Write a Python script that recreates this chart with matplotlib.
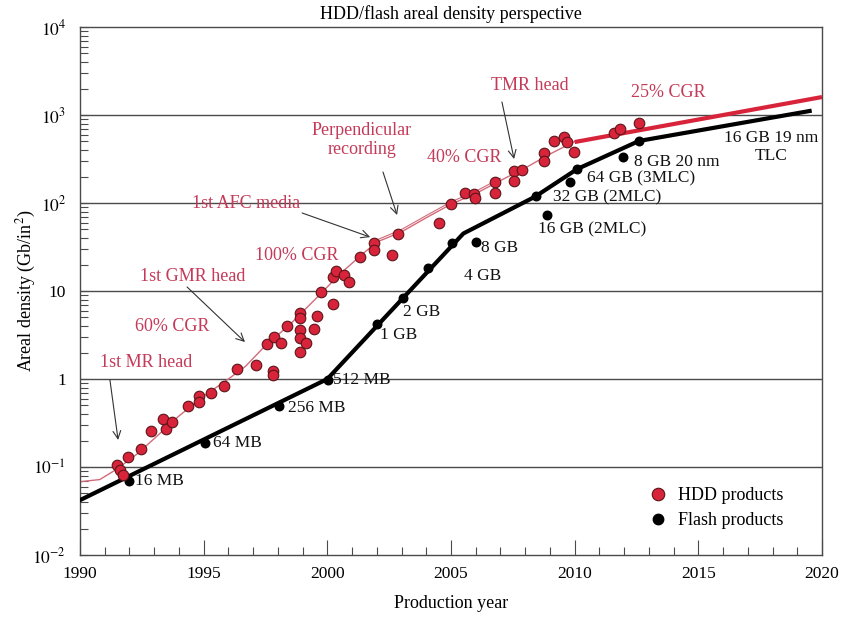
import matplotlib.pyplot as plt
from matplotlib.lines import Line2D
from matplotlib.ticker import FixedLocator, FixedFormatter, MultipleLocator, NullFormatter

plt.rcParams['font.family'] = ['Liberation Serif', 'DejaVu Serif']
plt.rcParams['mathtext.fontset'] = 'stix'

# HDD products: production year vs areal density (Gb/in^2)
hdd_year = [1991.50, 1991.62, 1991.74, 1991.94, 1992.47, 1992.87, 1993.36, 1993.48,
            1993.72, 1994.37, 1994.82, 1994.82, 1995.30, 1995.83, 1996.36, 1997.13,
            1997.57, 1997.85, 1998.14, 1997.81, 1997.81, 1998.38, 1998.91, 1998.91,
            1998.91, 1998.91, 1998.91, 1999.15, 1999.47, 1999.60, 1999.76, 2000.24,
            2000.24, 2000.36, 2000.69, 2000.89, 2001.34, 2001.90, 2001.90, 2002.63,
            2002.87, 2004.53, 2004.98, 2005.55, 2005.91, 2005.99, 2006.76, 2006.76,
            2007.53, 2007.89, 2007.53, 2008.74, 2008.74, 2009.15, 2009.55, 2009.68,
            2009.96, 2011.58, 2011.82, 2012.59]
hdd_val = [0.105, 0.092, 0.081, 0.130, 0.160, 0.257, 0.351, 0.270,
           0.325, 0.493, 0.641, 0.548, 0.694, 0.832, 1.30, 1.44,
           2.50, 3.00, 2.56, 1.23, 1.11, 4.00, 5.62, 4.93,
           3.61, 2.93, 2.03, 2.56, 3.70, 5.20, 9.75, 7.11,
           14.4, 16.9, 15.2, 12.6, 24.3, 35.1, 29.2, 25.6,
           44.5, 59.3, 97.4, 130, 126, 114, 173, 130,
           231, 237, 178, 370, 300, 507, 562, 493,
           380, 624, 693, 811]

# HDD trend curve and its 25% CGR continuation
hdd_trend_year = [1990.0, 1990.8, 1991.5, 1992.3, 1993.0, 1994.0, 1995.0, 1996.0,
                  1996.7, 1997.5, 1998.5, 1999.5, 2000.5, 2001.4, 2002.0, 2003.0,
                  2004.0, 2005.0, 2006.0, 2007.0, 2008.0, 2009.0, 2010.0]
hdd_trend_val = [0.068, 0.072, 0.095, 0.14, 0.21, 0.38, 0.64, 1.0,
                 1.4, 2.4, 4.2, 8.0, 15.5, 26, 36, 47,
                 68, 97, 128, 180, 250, 360, 500]
hdd_trend2_year = [2001.8, 2003.0, 2004.0, 2005.0, 2006.0, 2007.0]
hdd_trend2_val = [36, 50, 72, 103, 136, 191]
hdd_proj_year = [2010.0, 2020.0]
hdd_proj_val = [493, 1600]

# Flash products
flash_year = [1991.98, 1995.06, 1998.06, 2000.04, 2002.02, 2003.04, 2004.05, 2005.06,
              2006.03, 2008.42, 2008.87, 2009.80, 2010.08, 2011.94, 2012.59]
flash_val = [0.069, 0.187, 0.49, 0.975, 4.2, 8.3, 18.2, 35,
             36, 120, 73, 173, 243, 333, 507]
flash_label = ['16 MB', '64 MB', '256 MB', '512 MB', '1 GB', '2 GB', '4 GB', '',
               '8 GB', '32 GB (2MLC)', '16 GB (2MLC)', '64 GB (3MLC)', '', '8 GB 20 nm', '']
flash_trend_year = [1990.0, 2000.0, 2005.5, 2008.4, 2010.1, 2012.6, 2019.5]
flash_trend_val = [0.042, 1.0, 45, 118, 243, 507, 1110]

# label offsets from each flash dot, in pixels
label_dx = [6, 8, 9, 5, 3, 0, 36, 0, 5, 17, -9, 17, 0, 11, 0]
label_dy = [0, 0, -2, 0, -11, -14, -8, 0, -6, -1, -14, 4, 0, -5, 0]

ytick_vals = [1e-2, 1e-1, 1, 10, 1e2, 1e3, 1e4]
ytick_text = ['$10^{-2}$', '$10^{-1}$', '1', '10', '$10^{2}$', '$10^{3}$', '$10^{4}$']

RED_TXT = '#c43a58'
RED = '#d8243a'
DOT_EDGE = '#5c1418'
AX_COL = '#4a4a4a'

fig = plt.figure(figsize=(8.43, 6.19), dpi=100)
ax = fig.add_axes([80 / 843, 1 - 555 / 619, 742 / 843, 528 / 619])
ax.set_yscale('log')
ax.set_xlim(1990, 2020)
ax.set_ylim(1e-2, 1e4)

for y in ytick_vals[1:-1]:
    ax.axhline(y, color=AX_COL, lw=1.0, zorder=1)

ax.plot(hdd_trend_year, hdd_trend_val, color='#d26a7a', lw=1.0, zorder=2)
ax.plot(hdd_trend2_year, hdd_trend2_val, color='#d26a7a', lw=0.8, zorder=2)
ax.plot(hdd_proj_year, hdd_proj_val, color=RED, lw=3.0, solid_capstyle='butt', zorder=3)
ax.plot(flash_trend_year, flash_trend_val, color='black', lw=3.0, zorder=3)
ax.scatter(flash_year, flash_val, s=38, color='black', zorder=4)
ax.scatter(hdd_year, hdd_val, s=58, facecolor=RED, edgecolor=DOT_EDGE, linewidth=0.8, zorder=5)

for x, y, t, dx, dy in zip(flash_year, flash_val, flash_label, label_dx, label_dy):
    if t:
        ax.annotate(t, (x, y), xytext=(dx, dy), textcoords='offset pixels',
                    ha='left', va='center', fontsize=12.5, color='#111111', zorder=6)
ax.text(2017.94, 433, '16 GB 19 nm\nTLC', ha='center', va='center', fontsize=12.5,
        color='#111111', linespacing=1.1)

# HDD milestones
red_notes = [
    (2008.20, 2190, 'TMR head'),
    (2013.78, 1820, '25% CGR'),
    (2001.40, 520, 'Perpendicular\nrecording'),
    (2005.53, 333, '40% CGR'),
    (1996.71, 97.5, '1st AFC media'),
    (1998.77, 25.6, '100% CGR'),
    (1994.57, 14.8, '1st GMR head'),
    (1993.72, 4.0, '60% CGR'),
    (1992.67, 1.52, '1st MR head'),
]
for x, y, t in red_notes:
    ax.text(x, y, t, ha='center', va='center', fontsize=13, color=RED_TXT,
            linespacing=1.2, zorder=6)

arrows = [
    ((2007.06, 1406), (2007.55, 316)),
    ((2002.25, 225), (2002.82, 73)),
    ((1998.98, 77), (2001.73, 41)),
    ((1994.33, 11.1), (1996.67, 2.63)),
    ((1991.21, 0.975), (1991.54, 0.203)),
]
for tail, tip in arrows:
    ax.annotate('', xy=tip, xytext=tail,
                arrowprops=dict(arrowstyle='->', color='#333333', lw=0.8,
                                mutation_scale=14, shrinkA=0, shrinkB=0))

ax.xaxis.set_major_locator(MultipleLocator(5))
ax.xaxis.set_minor_locator(MultipleLocator(1))
ax.yaxis.set_major_locator(FixedLocator(ytick_vals))
ax.yaxis.set_major_formatter(FixedFormatter(ytick_text))
ax.yaxis.set_minor_formatter(NullFormatter())
ax.tick_params(axis='x', which='major', direction='in', length=11, width=0.8,
               color=AX_COL, labelsize=12.5, pad=8, top=False)
ax.tick_params(axis='x', which='minor', direction='in', length=6, width=0.8,
               color=AX_COL, top=False)
ax.tick_params(axis='y', which='both', direction='in', length=6, width=0.8,
               color=AX_COL, labelsize=12.5, pad=10, right=False)
for s in ax.spines.values():
    s.set_color(AX_COL)
    s.set_linewidth(1.0)

ax.set_title('HDD/flash areal density perspective', fontsize=13, pad=6)
ax.set_xlabel('Production year', fontsize=13, labelpad=9)
ax.set_ylabel('Areal density (Gb/in$^2$)', fontsize=13)
ax.yaxis.set_label_coords(-0.057, 0.5)

handles = [
    Line2D([], [], marker='o', ls='none', markersize=9, markerfacecolor=RED,
           markeredgecolor=DOT_EDGE, markeredgewidth=0.8),
    Line2D([], [], marker='o', ls='none', markersize=7.5, color='black'),
]
ax.legend(handles, ['HDD products', 'Flash products'], loc='lower left',
          bbox_to_anchor=(0.755, 0.032), frameon=False, fontsize=13,
          handlelength=1.0, handletextpad=0.6, labelspacing=0.43, borderpad=0)

fig.savefig('out.png', dpi=100)
